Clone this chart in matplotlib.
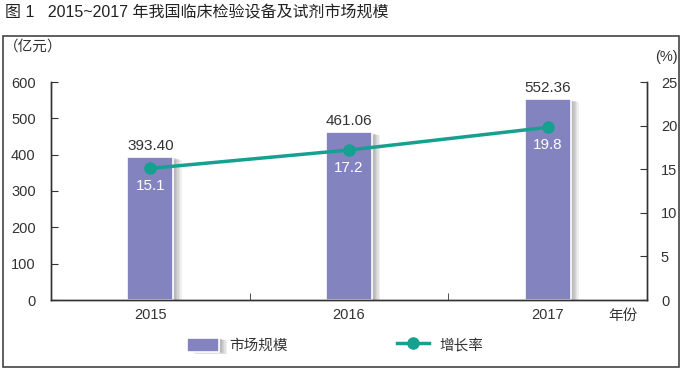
import matplotlib
matplotlib.use("Agg")
import matplotlib.pyplot as plt
import matplotlib.patheffects as pe
from matplotlib.patches import Rectangle
import numpy as np

plt.rcParams['font.family'] = ['Liberation Sans', 'Noto Sans CJK SC', 'DejaVu Sans']

years = ['2015', '2016', '2017']
market = [393.40, 461.06, 552.36]
growth = [15.1, 17.2, 19.8]
market_labels = ['393.40', '461.06', '552.36']
growth_labels = ['15.1', '17.2', '19.8']

bar_color = '#8383C0'
line_color = '#16A090'
text_color = '#333333'

fig = plt.figure(figsize=(6.87, 3.69), dpi=100)
ax = fig.add_axes([51/687, 69/369, 596/687, 218/369])
ax2 = ax.twinx()

x = np.arange(len(years))
shadow = [pe.SimplePatchShadow(offset=(o, -o * 0.3), shadow_rgbFace='#000000', alpha=0.06) for o in (6, 5, 4, 3, 2)]
bars = ax.bar(x, market, width=0.23, color=bar_color, edgecolor='white', linewidth=1.2,
              label='市场规模', zorder=2)
for b in bars:
    b.set_path_effects(shadow + [pe.Normal()])

ax.set_xlim(-0.5, 2.5)
ax.set_ylim(0, 600)
ax.set_yticks(range(0, 601, 100))
ax.set_xticks(x)
ax.set_xticklabels(years)
ax.set_xticks([0.5, 1.5], minor=True)
ax.tick_params(axis='x', which='major', length=0, pad=6, labelsize=10.5, colors=text_color)
ax.tick_params(axis='x', which='minor', direction='in', length=5, color=text_color)
ax.tick_params(axis='y', direction='in', length=5, pad=11, labelsize=10.5, colors=text_color)

line, = ax2.plot(x, growth, color=line_color, linewidth=2.5, marker='o', markersize=8,
                 label='增长率', zorder=3)
ax2.set_ylim(0, 25)
ax2.set_yticks(range(0, 26, 5))
ax2.tick_params(axis='y', direction='in', length=5, pad=10, labelsize=10.5, colors=text_color)

for a in (ax, ax2):
    a.spines['top'].set_visible(False)
    for s in ('left', 'right', 'bottom'):
        a.spines[s].set_color('#333333')
        a.spines[s].set_linewidth(1)
    a.set_zorder(1)
ax2.set_zorder(2)
ax.patch.set_visible(False)
ax2.patch.set_visible(False)

for xi, v, lab in zip(x, market, market_labels):
    ax.annotate(lab, (xi, v), xytext=(0, 3), textcoords='offset points', ha='center', va='bottom',
                fontsize=11, color=text_color)
for xi, v, lab in zip(x, growth, growth_labels):
    ax2.annotate(lab, (xi, v), xytext=(0, -8), textcoords='offset points', ha='center', va='top',
                 fontsize=11, color='white', zorder=4)

fig.text(4/687, 1 - 47/369, '（亿元）', ha='left', va='center', fontsize=10.5, color=text_color)
fig.text(678/687, 1 - 57/369, '(%)', ha='right', va='center', fontsize=10.5, color=text_color)
fig.text(608/687, 1 - 316/369, '年份', ha='left', va='center', fontsize=10.5, color=text_color)
fig.text(5/687, 1 - 13/369, '图 1   2015~2017 年我国临床检验设备及试剂市场规模', ha='left', va='center',
         fontsize=11.5, color='#222222')

fig.legend(handles=[bars, line], labels=['市场规模', '增长率'], loc='center',
           bbox_to_anchor=(335/687, 1 - 345/369), ncol=2, frameon=False,
           handlelength=2.2, handleheight=1.1, handletextpad=0.7, columnspacing=7.5,
           fontsize=10.5, labelcolor=text_color)

fig.patches.append(Rectangle((3/687, 2/369), 676/687, 331/369, transform=fig.transFigure,
                             fill=False, edgecolor='#444444', linewidth=1.2))

fig.savefig('out.png', dpi=100)
